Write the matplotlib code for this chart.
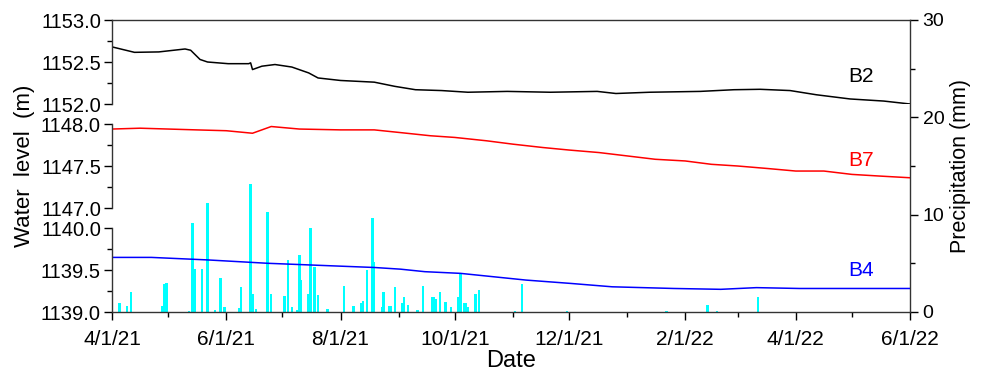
import numpy as np
import pandas as pd
import matplotlib
matplotlib.use("Agg")
import matplotlib.pyplot as plt
import matplotlib.dates as mdates
from matplotlib.ticker import MultipleLocator, FormatStrFormatter, FuncFormatter

plt.rcParams["font.family"] = ["Liberation Sans", "DejaVu Sans"]

# ---------- data ----------
b2_dates = ["2021-04-01", "2021-04-13", "2021-04-26", "2021-05-10", "2021-05-13", "2021-05-18",
            "2021-05-22", "2021-06-02", "2021-06-13", "2021-06-14", "2021-06-15", "2021-06-20",
            "2021-06-27", "2021-07-06", "2021-07-15", "2021-07-20", "2021-08-01", "2021-08-19",
            "2021-08-30", "2021-09-10", "2021-09-24", "2021-10-08", "2021-10-29", "2021-11-21",
            "2021-12-16", "2021-12-26", "2022-01-13", "2022-02-09", "2022-02-27", "2022-03-13",
            "2022-03-29", "2022-04-12", "2022-04-30", "2022-05-18", "2022-06-01"]
b2_level = [1152.68, 1152.615, 1152.62, 1152.655, 1152.64, 1152.53,
            1152.50, 1152.48, 1152.48, 1152.49, 1152.41, 1152.45,
            1152.47, 1152.44, 1152.37, 1152.31, 1152.28, 1152.26,
            1152.21, 1152.17, 1152.16, 1152.14, 1152.15, 1152.14,
            1152.15, 1152.125, 1152.14, 1152.15, 1152.17, 1152.175,
            1152.16, 1152.11, 1152.06, 1152.035, 1152.00]

b7_dates = ["2021-04-01", "2021-04-16", "2021-05-01", "2021-05-16", "2021-06-01", "2021-06-15",
            "2021-06-25", "2021-07-10", "2021-08-01", "2021-08-19", "2021-09-01", "2021-09-18",
            "2021-10-01", "2021-10-18", "2021-11-01", "2021-11-17", "2021-12-01", "2021-12-17",
            "2022-01-01", "2022-01-16", "2022-02-01", "2022-02-15", "2022-03-01", "2022-03-17",
            "2022-04-01", "2022-04-16", "2022-05-01", "2022-05-16", "2022-06-01"]
b7_level = [1147.94, 1147.95, 1147.94, 1147.93, 1147.92, 1147.89,
            1147.97, 1147.94, 1147.93, 1147.93, 1147.90, 1147.86,
            1147.84, 1147.80, 1147.76, 1147.72, 1147.69, 1147.66,
            1147.62, 1147.58, 1147.56, 1147.52, 1147.50, 1147.47,
            1147.44, 1147.44, 1147.40, 1147.38, 1147.36]

b4_dates = ["2021-04-01", "2021-04-22", "2021-05-22", "2021-06-23", "2021-07-27", "2021-08-19",
            "2021-09-02", "2021-09-15", "2021-10-04", "2021-11-08", "2021-12-02", "2021-12-24",
            "2022-01-26", "2022-02-20", "2022-03-11", "2022-04-03", "2022-05-06", "2022-06-01"]
b4_level = [1139.65, 1139.65, 1139.62, 1139.58, 1139.55, 1139.53,
            1139.51, 1139.48, 1139.46, 1139.38, 1139.34, 1139.30,
            1139.28, 1139.27, 1139.29, 1139.28, 1139.28, 1139.28]

rain_dates = ["2021-04-01", "2021-04-05", "2021-04-09", "2021-04-11", "2021-04-28", "2021-04-29",
              "2021-04-30", "2021-05-12", "2021-05-14", "2021-05-15", "2021-05-19", "2021-05-22",
              "2021-05-26", "2021-05-29", "2021-05-31", "2021-06-08", "2021-06-09", "2021-06-14",
              "2021-06-15", "2021-06-17", "2021-06-23", "2021-06-25", "2021-07-02", "2021-07-04",
              "2021-07-06", "2021-07-09", "2021-07-10", "2021-07-11", "2021-07-15", "2021-07-16",
              "2021-07-18", "2021-07-20", "2021-07-25", "2021-08-03", "2021-08-08", "2021-08-12",
              "2021-08-13", "2021-08-15", "2021-08-18", "2021-08-19", "2021-08-23", "2021-08-24",
              "2021-08-27", "2021-08-28", "2021-08-30", "2021-09-03", "2021-09-04", "2021-09-06",
              "2021-09-11", "2021-09-14", "2021-09-19", "2021-09-20", "2021-09-21", "2021-09-23",
              "2021-09-26", "2021-09-29", "2021-10-03", "2021-10-04", "2021-10-06", "2021-10-07",
              "2021-10-08", "2021-10-12", "2021-10-14", "2021-11-02", "2021-11-06", "2021-11-30",
              "2022-01-22", "2022-02-13", "2022-02-18", "2022-03-12"]
rain_mm = [1.75, 0.9, 0.6, 2.05, 0.6, 2.9,
           2.95, 0.1, 9.15, 4.4, 4.4, 11.2,
           0.2, 3.5, 0.5, 0.4, 2.6, 13.2,
           1.9, 0.3, 10.3, 1.9, 1.6, 5.3,
           0.5, 0.2, 5.9, 3.3, 1.9, 8.6,
           4.6, 1.7, 0.3, 2.7, 0.6, 0.9,
           1.1, 4.3, 9.7, 5.1, 0.5, 2.1,
           0.6, 0.6, 2.6, 0.9, 1.5, 0.7,
           0.2, 2.7, 1.5, 1.5, 1.3, 2.1,
           1.0, 0.5, 1.5, 4.0, 0.9, 0.9,
           0.5, 1.9, 2.3, 0.1, 2.9, 0.1,
           0.1, 0.7, 0.1, 1.5]

# ---------- layout ----------
W, H = 984, 375
left, right, top, bottom = 112, 910, 20, 312
seg_h = 84
x0, x1 = pd.Timestamp("2021-04-01"), pd.Timestamp("2022-06-01")

fig = plt.figure(figsize=(W / 100, H / 100), dpi=100)


def frac_box(ytop, ybot):
    return [left / W, 1 - ybot / H, (right - left) / W, (ybot - ytop) / H]


# precipitation axis over the whole frame
axp = fig.add_axes(frac_box(top, bottom))
axp.bar(pd.to_datetime(rain_dates), rain_mm, width=1.3, color="#00ffff", zorder=1)
axp.set_ylim(0, 30)
axp.set_xlim(x0, x1)
axp.spines["left"].set_visible(False)
axp.yaxis.tick_right()
axp.yaxis.set_label_position("right")
axp.yaxis.set_major_locator(MultipleLocator(10))
axp.yaxis.set_minor_locator(MultipleLocator(5))
axp.xaxis.set_major_locator(mdates.MonthLocator(bymonth=[2, 4, 6, 8, 10, 12]))
axp.xaxis.set_minor_locator(mdates.MonthLocator(bymonth=[1, 3, 5, 7, 9, 11]))
axp.xaxis.set_major_formatter(FuncFormatter(
    lambda v, p: (lambda d: f"{d.month}/{d.day}/{d.year % 100}")(mdates.num2date(v))))
axp.tick_params(which="major", length=6, width=1, labelsize=14, pad=3)
axp.tick_params(axis="x", which="major", labelsize=15, pad=7)
axp.tick_params(which="minor", length=3.5, width=1)
axp.set_ylabel("Precipitation (mm)", fontsize=15.5, labelpad=4)
for s in axp.spines.values():
    s.set_linewidth(1)
    s.set_color("#333333")
fig.text((left + right) / 2 / W, 1 - 361 / H, "Date", fontsize=17, ha="center", va="center")

# water level segments
segments = [
    (b2_dates, b2_level, "black", (1152.0, 1153.0), "B2", top, 76),
    (b7_dates, b7_level, "red", (1147.0, 1148.0), "B7", top + seg_h + 20, 160),
    (b4_dates, b4_level, "blue", (1139.0, 1140.0), "B4", top + 2 * (seg_h + 20), 270),
]
for dates, vals, col, ylim, name, ytop, ylab in segments:
    ax = fig.add_axes(frac_box(ytop, ytop + seg_h), sharex=axp)
    ax.patch.set_visible(False)
    ax.plot(pd.to_datetime(dates), vals, color=col, lw=1.1)
    ax.set_ylim(*ylim)
    ax.set_xlim(x0, x1)
    for k in ["top", "right", "bottom"]:
        ax.spines[k].set_visible(False)
    ax.spines["left"].set_linewidth(1)
    ax.spines["left"].set_color("#333333")
    ax.xaxis.set_visible(False)
    ax.yaxis.set_major_locator(MultipleLocator(0.5))
    ax.yaxis.set_minor_locator(MultipleLocator(0.25))
    ax.yaxis.set_major_formatter(FormatStrFormatter("%.1f"))
    ax.tick_params(which="major", length=6, width=1, labelsize=14.5, pad=2)
    ax.tick_params(which="minor", length=3.5, width=1)
    fig.text(861 / W, 1 - ylab / H, name, color=col, fontsize=15, ha="center", va="center")

fig.text(25 / W, 1 - 166 / H, "Water  level  (m)", rotation=90, fontsize=16, ha="center", va="center")

fig.savefig("out.png", dpi=100)
